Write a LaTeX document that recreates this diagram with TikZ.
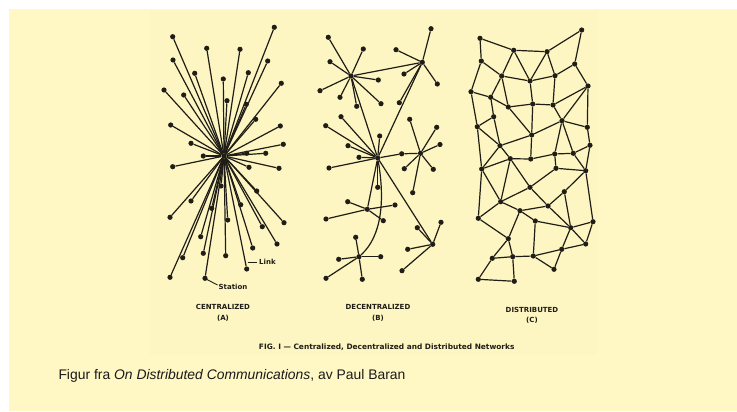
\documentclass[tikz,border=0pt]{standalone}
\usepackage{fontspec}
\setmainfont{Liberation Sans}
\newfontfamily\letterfont{DejaVu Sans}
\definecolor{bgyellow}{HTML}{FFF8C4}
\definecolor{scanyellow}{HTML}{FDF6C2}
\definecolor{ink}{HTML}{1F1D16}
\definecolor{captext}{HTML}{1A1A1A}
\tikzset{
  dot/.style={circle, fill=ink, inner sep=0pt, minimum size=5.2pt},
  link/.style={draw=ink, line width=1.2pt},
  lettering/.style={font=\letterfont\bfseries\fontsize{7}{9}\selectfont, text=ink, inner sep=0pt},
}
\begin{document}
\begin{tikzpicture}[x=1pt,y=-1pt]
\useasboundingbox (0,0) rectangle (737,412);
\fill[white] (0,0) rectangle (737,412);
\fill[bgyellow] (9,9) rectangle (737,411);
\fill[scanyellow] (150,11) rectangle (598,355);

% ---------------- Centralized (A) ----------------
\node[dot] (C0) at (224,156) {};
\foreach \n/\x/\y in {c1/274.3/27.3, c2/172.7/36.7, c3/206.7/48.3, c4/240/49.3, c5/173/60,
  c6/267.7/61, c7/194.7/73.3, c8/248.3/72.7, c9/223.3/79, c10/281.3/83.3, c11/164/90,
  c12/183.7/95, c13/227/100.7, c14/246.3/104.3, c15/255.7/119.3, c16/170.7/125,
  c17/280.3/126, c18/191/143.3, c19/283.3/144.3, c20/246.7/153.3, c21/265.7/153.3,
  c22/203.3/156, c23/172.7/166.7, c24/249/167.3, c25/279/168.3, c26/221/186,
  c27/256.7/191, c28/191/201, c29/240.7/204.7, c30/211.7/208.3, c31/170/217.3,
  c32/227.7/220, c33/284/222.7, c34/262.3/226.7, c35/200.7/236.7, c36/277/244,
  c37/252.7/248, c38/203.3/253.3, c39/182.7/257.7, c40/225.7/255.7, c41/246.7/269,
  c42/170/277.3, c43/205/278.3}
{ \node[dot] (\n) at (\x,\y) {}; \draw[link] (C0) -- (\n); }
\coordinate (linkA) at (247.7,262.3);
\coordinate (linkB) at (257.3,262.3);
\draw[ink, line width=0.9pt] (linkA) -- (linkB);
\node[lettering, anchor=west] (linklbl) at (259,262.3) {Link};
\coordinate (stA) at (207,279.5);
\draw[ink, line width=0.9pt] (stA) -- (217.5,285);
\node[lettering, anchor=west] (stlbl) at (218.5,287) {Station};
\node[lettering] (tA) at (223,306.7) {CENTRALIZED};
\node[lettering] (tAb) at (223,318) {(A)};

% ---------------- Decentralized (B) ----------------
\node[dot] (B1) at (351,76) {};
\node[dot] (B2) at (422.3,62.3) {};
\node[dot] (B3) at (377.7,158) {};
\node[dot] (B4) at (420.5,153.3) {};
\node[dot] (B5) at (367.3,209.3) {};
\node[dot] (B6) at (432.7,244.3) {};
\node[dot] (B7) at (359,256.7) {};
\node[dot] (b4a) at (401.7,153.8) {};
\draw[link] (B1) -- (B2);
\draw[link] (B1) -- (B3);
\draw[link] (B2) -- (B3);
\draw[link] (B3) -- (b4a) -- (B4);
\draw[link] (B3) -- (B5);
\draw[link] (B3) -- (B6);
\draw[link] (B3) .. controls (385,200) and (382,236) .. (B7);
\foreach \h/\n/\x/\y in {
  B1/b11/328.3/37.3, B1/b12/363.3/49, B1/b13/330/61.7, B1/b14/320/90.7, B1/b15/340/97.3,
  B1/b16/356.7/106.3, B1/b17/378.3/80, B1/b18/381/103.7,
  B2/b21/431/28.7, B2/b22/396/49.7, B2/b23/404/74, B2/b24/437.3/84, B2/b25/399.3/102.7,
  B3/b31/341/116.7, B3/b32/325.7/125.7, B3/b33/379.7/136, B3/b34/348/145.7,
  B3/b35/359/157.3, B3/b36/329/168, B3/b37/377.7/187.3,
  B4/b41/409.7/119.3, B4/b42/436.7/127.3, B4/b43/440/144.5, B4/b44/404.3/168.7,
  B4/b45/433.3/169.3, B4/b46/412.7/192.7,
  B5/b51/347.7/201.7, B5/b52/395/205, B5/b53/326/219, B5/b54/383.3/220.7,
  B6/b61/441/222.3, B6/b62/417.3/227.7, B6/b63/407.7/249.3, B6/b64/402/270.7,
  B7/b71/355.7/237.3, B7/b72/338.7/259.3, B7/b73/380.7/256.7, B7/b74/326/278.3,
  B7/b75/362.3/279.3}
{ \node[dot] (\n) at (\x,\y) {}; \draw[link] (\h) -- (\n); }
\node[lettering] (tB) at (378,307) {DECENTRALIZED};
\node[lettering] (tBb) at (378,318) {(B)};

% ---------------- Distributed (C) ----------------
\foreach \n/\x/\y in {d1/480/38.3, d2/581.7/30, d3/513.7/50.3, d4/547/51.7, d5/481.3/61,
  d6/574.7/64, d7/501.7/76, d8/530/81, d9/555/75.7, d10/588/86, d11/471/91.7,
  d12/490.7/97.3, d13/508.3/107, d14/532.7/104, d15/553/105, d16/493.7/116.7,
  d17/562/120.7, d18/477.3/126.7, d19/587.3/127.3, d20/531.7/135, d21/500/145.7,
  d22/590/145.3, d23/554.7/154, d24/573.3/153.3, d25/510.3/158.7, d26/530.7/159,
  d27/481.7/169, d28/556/168.3, d29/585.7/170.7, d30/530/187.3, d31/564.3/191.7,
  d32/500.7/201.7, d33/520/210.7, d34/548/206, d35/478.3/218.3, d36/535.3/221,
  d37/593/221.7, d38/570.7/227.7, d39/508.3/238.7, d40/585.7/244, d41/561.7/249.3,
  d42/492.3/258.3, d43/512.7/256.7, d44/533.3/256, d45/554/269.3, d46/478.3/279.3,
  d47/514.3/281.3}
{ \node[dot] (\n) at (\x,\y) {}; }
\foreach \a/\b in {d1/d3, d1/d5, d3/d4, d4/d2, d2/d6, d3/d7, d3/d8, d4/d8, d4/d9,
  d5/d7, d5/d11, d6/d9, d6/d10, d7/d8, d7/d12, d7/d13, d8/d9, d8/d14, d9/d15,
  d10/d15, d10/d17, d10/d19, d11/d12, d11/d18, d12/d16, d12/d13, d13/d14, d13/d20,
  d14/d15, d14/d20, d15/d17, d16/d18, d16/d21, d18/d21, d17/d20, d17/d19,
  d17/d23, d17/d24, d19/d22, d20/d21, d20/d26, d21/d25, d22/d24, d23/d24, d23/d26,
  d25/d26, d21/d27, d18/d27, d25/d27, d25/d32, d25/d30, d23/d28, d28/d29, d24/d29,
  d22/d29, d28/d30, d27/d32, d27/d35, d30/d32, d30/d34, d29/d31, d29/d37, d31/d34,
  d31/d38, d32/d33, d33/d34, d32/d35, d33/d36, d33/d39, d34/d38, d35/d39,
  d36/d38, d36/d44, d37/d38, d38/d40, d38/d41, d37/d40, d40/d41, d39/d42,
  d39/d43, d41/d44, d41/d45, d42/d43, d43/d44, d44/d45, d42/d46, d43/d47, d46/d47}
{ \draw[link] (\a) -- (\b); }
\node[lettering] (tC) at (532,310) {DISTRIBUTED};
\node[lettering] (tCb) at (532,320.5) {(C)};

% ---------------- Captions ----------------
\node[lettering, font=\letterfont\bfseries\fontsize{7.4}{9}\selectfont] (fig) at (386.7,347) {FIG. I — Centralized, Decentralized and Distributed Networks};
\node[font=\fontsize{13.9}{16}\selectfont, text=captext, anchor=west, inner sep=0pt] (cap) at (58.3,375.5)
  {Figur fra \textit{On Distributed Communications}, av Paul Baran};
\end{tikzpicture}
\end{document}
